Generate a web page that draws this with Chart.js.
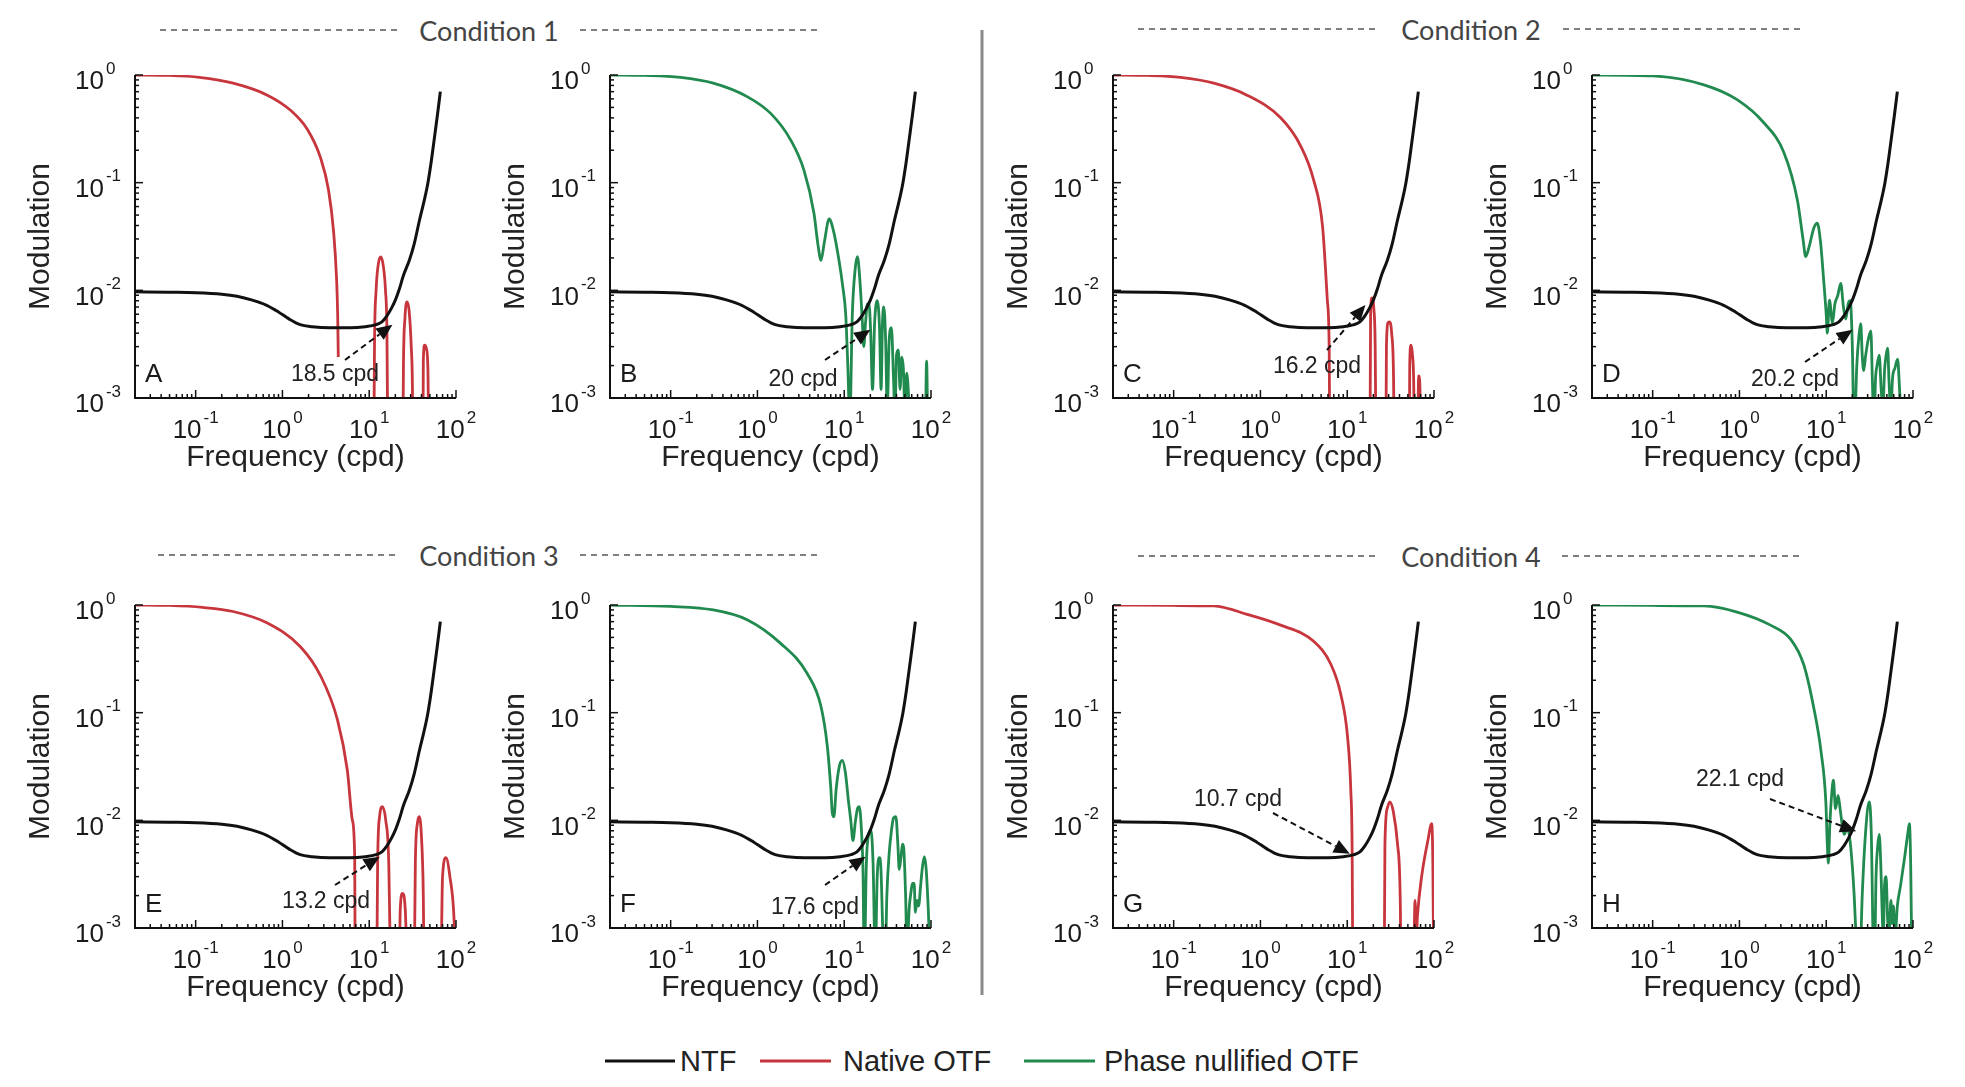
<!DOCTYPE html>
<html>
<head>
<meta charset="utf-8">
<title>NTF and OTF by condition</title>
<script src="https://cdn.jsdelivr.net/npm/chart.js@4.4.1/dist/chart.umd.min.js"></script>
<style>
  html, body { margin: 0; padding: 0; background: #fff; }
  #page { position: relative; width: 1965px; height: 1087px; overflow: hidden; background: #fff; }
  #page canvas { position: absolute; }
  #deco { position: absolute; left: 0; top: 0; }
</style>
</head>
<body>
<div id="page">
  <svg id="deco" width="1965" height="1087" xmlns="http://www.w3.org/2000/svg"></svg>
</div>
<script>
'use strict';

// axis ranges and decade labels
const xRange = [0.02, 100];
const yRange = [0.001, 1];
const xTickExp = [-1, 0, 1, 2];
const yTickExp = [0, -1, -2, -3];

const panelNames = ['A', 'B', 'C', 'D', 'E', 'F', 'G', 'H'];
const conditionNames = ['Condition 1', 'Condition 2', 'Condition 3', 'Condition 4'];
const legendLabels = ['NTF', 'Native OTF', 'Phase nullified OTF'];

// neural transfer function (same in every panel)
const ntfFreq = [0.02, 0.05, 0.1, 0.2, 0.3, 0.45, 0.65, 0.9, 1.2, 1.6, 2.2, 3.5, 6, 9, 12, 14, 16, 18, 20, 22,
  25, 29, 33, 38, 43, 47.5, 52, 56, 61, 66];
const ntfMod = [0.0097, 0.0096, 0.0095, 0.0092, 0.0088, 0.0081, 0.0073, 0.0063, 0.0054, 0.0048, 0.0046, 0.0045,
  0.0045, 0.0046, 0.0048, 0.0051, 0.0058, 0.0068, 0.0081, 0.0100, 0.0140, 0.0190, 0.027, 0.045, 0.068, 0.10,
  0.16, 0.25, 0.42, 0.70];

// native OTF, conditions 1-4 (null = negative part, not plotted on log axis)
const otfFreqA = [0.02, 0.05, 0.11, 0.27, 0.67, 1.24, 1.95, 2.75, 3.4, 3.9, 4.2, 4.33, 4.4, null,
  11.3, 11.5, 12.0, 12.8, 13.6, 14.5, 15.4, 16.0, 16.4, null,
  24.4, 24.8, 25.8, 27.2, 28.8, 30.5, 31.5, 31.9, null,
  41.6, 42.0, 43.5, 45.5, 47.5, 48.8];
const otfModA = [1.0, 0.99, 0.95, 0.84, 0.65, 0.47, 0.31, 0.17, 0.085, 0.034, 0.013, 0.006, 0.0024, null,
  0.0003, 0.003, 0.010, 0.018, 0.0204, 0.017, 0.010, 0.004, 0.0003, null,
  0.0003, 0.002, 0.0055, 0.0078, 0.0065, 0.003, 0.0012, 0.0003, null,
  0.0003, 0.0022, 0.0031, 0.0029, 0.0018, 0.0003];

const otfFreqC = [0.02, 0.05, 0.12, 0.29, 0.70, 1.71, 2.9, 4.1, 5.2, 5.9, 6.2, 6.3, null,
  18.3, 18.6, 19.3, 20.2, 21.0, 21.5, null,
  27.9, 28.3, 29.5, 30.5, 32.5, 34.2, 34.8, null,
  51.9, 52.5, 54.3, 56.5, 58.5, 59.3, null,
  65, 66.5, 68.5, 71];
const otfModC = [1.0, 0.99, 0.95, 0.84, 0.65, 0.40, 0.22, 0.106, 0.039, 0.0081, 0.0028, 0.0003, null,
  0.0003, 0.006, 0.0085, 0.007, 0.003, 0.0003, null,
  0.0003, 0.003, 0.0050, 0.0051, 0.004, 0.0015, 0.0003, null,
  0.0003, 0.002, 0.0031, 0.0025, 0.0012, 0.0003, null,
  0.0003, 0.0016, 0.0014, 0.0003];

const otfFreqE = [0.02, 0.05, 0.12, 0.27, 0.67, 1.61, 2.75, 4.3, 5.6, 6.4, 6.8, 6.9, null,
  12.2, 12.5, 13.2, 14.2, 15.5, 16.8, 17.7, null,
  22.1, 22.8, 24.2, 26.0, 27.7, null,
  33, 34, 36, 37.7, 40, 42, 43, null,
  67, 70, 76.7, 85, 95, 100];
const otfModE = [1.0, 0.99, 0.95, 0.87, 0.68, 0.41, 0.22, 0.086, 0.029, 0.010, 0.0046, 0.0003, null,
  0.0003, 0.004, 0.011, 0.0134, 0.010, 0.004, 0.0003, null,
  0.0003, 0.0015, 0.0021, 0.0015, 0.0003, null,
  0.0003, 0.004, 0.0095, 0.0108, 0.007, 0.002, 0.0003, null,
  0.0003, 0.003, 0.0045, 0.003, 0.0012, 0.0003];

const otfFreqG = [0.02, 0.1, 0.29, 0.70, 1.71, 4.1, 6.5, 8.4, 10.1, 11.0, 11.4, 11.6, null,
  26.7, 27.2, 29, 31, 34, 38, 41, 41.6, null,
  58, 60.5, 62.5, 64.5, 72, 85, 94, 97, 99.5];
const otfModG = [1.0, 0.99, 0.98, 0.82, 0.65, 0.46, 0.28, 0.15, 0.059, 0.0188, 0.005, 0.0003, null,
  0.0003, 0.006, 0.013, 0.0148, 0.012, 0.006, 0.0015, 0.0003, null,
  0.0003, 0.0018, 0.0008, 0.0013, 0.003, 0.0065, 0.0093, 0.004, 0.0003];

// phase nullified OTF, conditions 1-4
const otfFreqB = [0.02, 0.05, 0.13, 0.31, 0.76, 1.42, 2.41, 3.44, 4.48, 5.0, 5.4, 5.9, 6.7, 7.5, 8.7, 9.6, 10.4,
  11.0, 11.6, 12.4, 13.4, 14.2, 15.2, 16.2, 16.8, 17.6, 18.5, 19.3, 20.2, 21.2, 22.4, 24, 25.5, 26.6, 27.6, 28.6,
  30, 31.3, 33, 35, 37, 38.5, 40, 42, 44, 46, 48, 50, 52.5, 55, 58, null, 86, 89, 92];
const otfModB = [1.0, 0.99, 0.95, 0.84, 0.63, 0.44, 0.25, 0.13, 0.052, 0.026, 0.019, 0.028, 0.046, 0.036, 0.019,
  0.011, 0.006, 0.002, 0.0006, 0.006, 0.016, 0.0206, 0.012, 0.005, 0.003, 0.005, 0.0075, 0.0075, 0.004, 0.0012,
  0.005, 0.008, 0.0045, 0.0012, 0.005, 0.007, 0.0035, 0.0008, 0.0035, 0.0045, 0.0015, 0.0007, 0.0025, 0.0028,
  0.0012, 0.0024, 0.0019, 0.0008, 0.0017, 0.0011, 0.0004, null, 0.0004, 0.0022, 0.0004];

const otfFreqD = [0.02, 0.1, 0.39, 0.94, 1.91, 3.26, 4.65, 5.4, 5.8, 6.4, 7.2, 7.9, 8.6, 9.4, 10.0, 10.3, 10.9,
  11.8, 12.6, 13.6, 14.7, 15.8, 16.8, 17.9, 18.9, 20, 21, 22.5, 24, 25, 26, 27, 28.5, 30.5, 32.7, 34, 35.5, 37,
  38.5, 40.8, 43, 45, 47, 49, 51, 53, 55.5, 58, 62, 66.5, 70, 74, 79];
const otfModD = [1.0, 0.98, 0.81, 0.59, 0.36, 0.19, 0.069, 0.03, 0.0206, 0.026, 0.038, 0.042, 0.028, 0.0117,
  0.006, 0.004, 0.0081, 0.005, 0.0075, 0.009, 0.0116, 0.007, 0.0054, 0.0075, 0.008, 0.003, 0.0004, 0.002, 0.004,
  0.0049, 0.0025, 0.0018, 0.0025, 0.0035, 0.0042, 0.0015, 0.0005, 0.0015, 0.002, 0.0025, 0.0012, 0.0008, 0.0018,
  0.0025, 0.0029, 0.0014, 0.0007, 0.0015, 0.0019, 0.0023, 0.0012, 0.0005, 0.0003];

const otfFreqF = [0.02, 0.1, 0.31, 0.76, 1.85, 3.76, 5.4, 6.4, 7.0, 7.3, 7.6, 8.1, 8.8, 9.5, 10.3, 11.2, 11.9,
  12.6, 13.5, 14.3, 14.9, 15.8, 16.5, 17, 18, 19.2, 20.3, 21.5, 22.8, 24, 25.5, 26.5, 28, 29.5, 31, 33, 35, 37,
  39.4, 41.5, 43, 45, 47, 48.5, 51, 53, 56, 59, 61, 64, 66, 69, 72, 76, 80, 84, 88, 93, 98];
const otfModF = [1.0, 0.97, 0.90, 0.73, 0.44, 0.23, 0.114, 0.048, 0.02, 0.0116, 0.0108, 0.02, 0.032, 0.036, 0.028,
  0.015, 0.010, 0.0065, 0.010, 0.013, 0.0134, 0.008, 0.003, 0.0004, 0.004, 0.0075, 0.0081, 0.004, 0.0005, 0.003,
  0.0045, 0.0035, 0.0008, 0.0004, 0.002, 0.005, 0.008, 0.0105, 0.0108, 0.006, 0.0035, 0.0045, 0.006, 0.0055,
  0.002, 0.0006, 0.0015, 0.0022, 0.0026, 0.0026, 0.0014, 0.0018, 0.0016, 0.0025, 0.0038, 0.0046, 0.0035, 0.0015,
  0.0005];

const otfFreqH = [0.02, 0.1, 0.39, 0.94, 2.28, 3.9, 5.5, 7.2, 8.7, 9.9, 10.3, 10.6, 11.0, 11.6, 12.1, 12.8, 13.7,
  14.6, 15.3, 16.1, 17.5, 19, 21, 22.5, 24, 26, 28.5, 31.3, 33, 35.7, 37.5, 39, 40.8, 42.5, 44, 45.5, 47, 49, 51,
  53, 55.7, 57.5, 59.5, 62, 66, 72, 80, 87, 90.8, 94, 97];
const otfModH = [1.0, 0.99, 0.98, 0.86, 0.65, 0.48, 0.28, 0.11, 0.044, 0.0148, 0.0059, 0.004, 0.009, 0.018, 0.0236,
  0.0128, 0.017, 0.012, 0.009, 0.0074, 0.0085, 0.006, 0.002, 0.0006, 0.0003, 0.002, 0.008, 0.0148, 0.008, 0.0003,
  0.003, 0.0055, 0.0074, 0.004, 0.0015, 0.0008, 0.0025, 0.003, 0.0012, 0.0009, 0.0018, 0.0011, 0.0016, 0.0008,
  0.0016, 0.0025, 0.0045, 0.0075, 0.0093, 0.004, 0.0005];

// cutoff frequency where the OTF drops under the NTF, per panel
const cutoffFreq = [18.5, 20, 16.2, 20.2, 13.2, 17.6, 10.7, 22.1];
const cutoffMod = [0.0048, 0.0043, 0.0073, 0.0043, 0.0046, 0.0046, 0.0049, 0.0079];

// ---- layout ----
const black = '#111111';
const redLine = '#c8363d';
const greenLine = '#218a4e';
const axisFont = '"Liberation Sans", Arial, sans-serif';

// plot area top-left corner of each panel on the page
const panelOrigin = [[135, 75], [610, 75], [1113, 75], [1592, 75], [135, 605], [610, 605], [1113, 605], [1592, 605]];
const padLeft = 130, padTop = 30, plotW = 321, plotH = 323, padRight = 25, padBottom = 95;

// arrow tail and label centre, relative to the plot area corner
const arrowTail = [[210, 285], [215, 285], [214, 275], [213, 287], [200, 280], [215, 280], [160, 208], [178, 194]];
const arrowLabel = [[200, 300], [193, 305], [204, 292], [203, 305], [191, 297], [205, 303], [125, 195], [148, 175]];

const panels = [
  { freq: otfFreqA, mod: otfModA, native: true },
  { freq: otfFreqB, mod: otfModB, native: false },
  { freq: otfFreqC, mod: otfModC, native: true },
  { freq: otfFreqD, mod: otfModD, native: false },
  { freq: otfFreqE, mod: otfModE, native: true },
  { freq: otfFreqF, mod: otfModF, native: false },
  { freq: otfFreqG, mod: otfModG, native: true },
  { freq: otfFreqH, mod: otfModH, native: false }
];

function toPoints(xs, ys) {
  return xs.map((x, i) => ({ x: x, y: ys[i] }));
}

// tick positions 1..9 x 10^e inside the range
function logTicks(min, max) {
  let out = [];
  for (let e = Math.floor(Math.log10(min)); e <= Math.ceil(Math.log10(max)); e++) {
    for (let m = 1; m <= 9; m++) {
      let v = m * Math.pow(10, e);
      if (v >= min * 0.999 && v <= max * 1.001) out.push({ v: v, major: m === 1 });
    }
  }
  return out;
}

// "10" with a raised exponent
function drawPower(ctx, exp, x, y, centred) {
  ctx.font = '26px ' + axisFont;
  let bw = ctx.measureText('10').width;
  ctx.font = '17px ' + axisFont;
  let sup = String(exp);
  let sw = ctx.measureText(sup).width;
  let x0 = centred ? x - (bw + 2 + sw) / 2 : x;
  ctx.textAlign = 'left';
  ctx.textBaseline = 'middle';
  ctx.font = '26px ' + axisFont;
  ctx.fillText('10', x0, y);
  ctx.font = '17px ' + axisFont;
  ctx.fillText(sup, x0 + bw + 2, y - 13);
}

// axes lines, inward ticks, decade labels, panel letter and cutoff arrow
const panelDecor = {
  id: 'panelDecor',
  afterDatasetsDraw(chart, args, opts) {
    const i = opts.index;
    const ctx = chart.ctx;
    const a = chart.chartArea;
    const xs = chart.scales.x, ys = chart.scales.y;
    ctx.save();

    ctx.strokeStyle = black;
    ctx.lineWidth = 2;
    ctx.beginPath();
    ctx.moveTo(a.left, a.top);
    ctx.lineTo(a.left, a.bottom);
    ctx.lineTo(a.right, a.bottom);
    ctx.stroke();

    ctx.lineWidth = 1.5;
    logTicks(xRange[0], xRange[1]).forEach(t => {
      let px = xs.getPixelForValue(t.v);
      ctx.beginPath();
      ctx.moveTo(px, a.bottom);
      ctx.lineTo(px, a.bottom - (t.major ? 8 : 4));
      ctx.stroke();
    });
    logTicks(yRange[0], yRange[1]).forEach(t => {
      let py = ys.getPixelForValue(t.v);
      ctx.beginPath();
      ctx.moveTo(a.left, py);
      ctx.lineTo(a.left + (t.major ? 8 : 4), py);
      ctx.stroke();
    });

    ctx.fillStyle = '#1a1a1a';
    xTickExp.forEach(e => {
      drawPower(ctx, e, xs.getPixelForValue(Math.pow(10, e)), a.bottom + 33, true);
    });
    yTickExp.forEach(e => {
      drawPower(ctx, e, a.left - 60, ys.getPixelForValue(Math.pow(10, e)) + 7, false);
    });

    // panel letter
    ctx.font = '26px ' + axisFont;
    ctx.textAlign = 'left';
    ctx.textBaseline = 'middle';
    ctx.fillText(panelNames[i], a.left + 10, a.bottom - 23);

    // dashed arrow to the cutoff frequency
    let tipX = xs.getPixelForValue(cutoffFreq[i]);
    let tipY = ys.getPixelForValue(cutoffMod[i]);
    let tx = a.left + arrowTail[i][0], ty = a.top + arrowTail[i][1];
    let ang = Math.atan2(tipY - ty, tipX - tx);
    let headLen = 16, headW = 7;
    let bx = tipX - headLen * Math.cos(ang), by = tipY - headLen * Math.sin(ang);
    ctx.strokeStyle = black;
    ctx.lineWidth = 2;
    ctx.setLineDash([6, 4]);
    ctx.beginPath();
    ctx.moveTo(tx, ty);
    ctx.lineTo(bx, by);
    ctx.stroke();
    ctx.setLineDash([]);
    ctx.fillStyle = black;
    ctx.beginPath();
    ctx.moveTo(tipX, tipY);
    ctx.lineTo(bx + headW * Math.sin(ang), by - headW * Math.cos(ang));
    ctx.lineTo(bx - headW * Math.sin(ang), by + headW * Math.cos(ang));
    ctx.closePath();
    ctx.fill();

    ctx.fillStyle = '#222';
    ctx.font = '23px ' + axisFont;
    ctx.textAlign = 'center';
    ctx.fillText(cutoffFreq[i] + ' cpd', a.left + arrowLabel[i][0], a.top + arrowLabel[i][1]);

    ctx.restore();
  }
};

const page = document.getElementById('page');

function makePanel(i) {
  const p = panels[i];
  const canvas = document.createElement('canvas');
  canvas.width = padLeft + plotW + padRight;
  canvas.height = padTop + plotH + padBottom;
  canvas.style.left = (panelOrigin[i][0] - padLeft) + 'px';
  canvas.style.top = (panelOrigin[i][1] - padTop) + 'px';
  page.appendChild(canvas);

  new Chart(canvas, {
    type: 'line',
    data: {
      datasets: [
        { label: legendLabels[0], data: toPoints(ntfFreq, ntfMod), borderColor: black, borderWidth: 3 },
        {
          label: p.native ? legendLabels[1] : legendLabels[2],
          data: toPoints(p.freq, p.mod),
          borderColor: p.native ? redLine : greenLine,
          borderWidth: 2.8
        }
      ]
    },
    options: {
      responsive: false,
      animation: false,
      layout: { padding: { left: 0, top: padTop, right: padRight, bottom: 0 } },
      elements: {
        point: { radius: 0 },
        line: { cubicInterpolationMode: 'monotone', fill: false }
      },
      plugins: {
        legend: { display: false },
        tooltip: { enabled: false },
        panelDecor: { index: i }
      },
      scales: {
        x: {
          type: 'logarithmic',
          min: xRange[0],
          max: xRange[1],
          grid: { display: false },
          border: { display: false },
          ticks: { display: false },
          title: {
            display: true, text: 'Frequency (cpd)', color: '#222',
            font: { family: axisFont, size: 30 }, padding: { top: 0, bottom: 17 }
          },
          afterFit: s => { s.height = padBottom; }
        },
        y: {
          type: 'logarithmic',
          min: yRange[0],
          max: yRange[1],
          grid: { display: false },
          border: { display: false },
          ticks: { display: false },
          title: {
            display: true, text: 'Modulation', color: '#222',
            font: { family: axisFont, size: 30 }, padding: { top: 18, bottom: 0 }
          },
          afterFit: s => { s.width = padLeft; }
        }
      }
    },
    plugins: [panelDecor]
  });
}

for (let i = 0; i < panels.length; i++) {
  makePanel(i);
}

// condition headers, divider and legend
const svg = document.getElementById('deco');
function svgEl(tag, attrs, text) {
  const el = document.createElementNS('http://www.w3.org/2000/svg', tag);
  for (const k in attrs) el.setAttribute(k, attrs[k]);
  if (text !== undefined) el.textContent = text;
  svg.appendChild(el);
  return el;
}

const headerLayout = [
  { cx: 489, y: 30, dashes: [[160, 397], [580, 820]] },
  { cx: 1471, y: 29, dashes: [[1138, 1378], [1563, 1802]] },
  { cx: 489, y: 555, dashes: [[158, 397], [580, 820]] },
  { cx: 1471, y: 556, dashes: [[1138, 1378], [1562, 1802]] }
];
conditionNames.forEach((name, i) => {
  const h = headerLayout[i];
  h.dashes.forEach(d => {
    svgEl('line', { x1: d[0], x2: d[1], y1: h.y, y2: h.y, stroke: '#555', 'stroke-width': 1.6, 'stroke-dasharray': '6 5' });
  });
  svgEl('text', {
    x: h.cx, y: h.y, 'text-anchor': 'middle', 'dominant-baseline': 'central',
    'font-family': 'Lato, "Open Sans", sans-serif', 'font-size': 27, fill: '#444'
  }, name);
});

svgEl('line', { x1: 982, x2: 982, y1: 30, y2: 995, stroke: '#8a8a8a', 'stroke-width': 3 });

const legendColors = [black, redLine, greenLine];
const legendLayout = [[605, 675, 680], [760, 831, 843], [1024, 1095, 1104]];
legendLabels.forEach((label, i) => {
  const l = legendLayout[i];
  svgEl('line', { x1: l[0], x2: l[1], y1: 1061, y2: 1061, stroke: legendColors[i], 'stroke-width': 3 });
  svgEl('text', {
    x: l[2], y: 1061, 'dominant-baseline': 'central',
    'font-family': 'Liberation Sans, Arial, sans-serif', 'font-size': 29, fill: '#222'
  }, label);
});
</script>
</body>
</html>
